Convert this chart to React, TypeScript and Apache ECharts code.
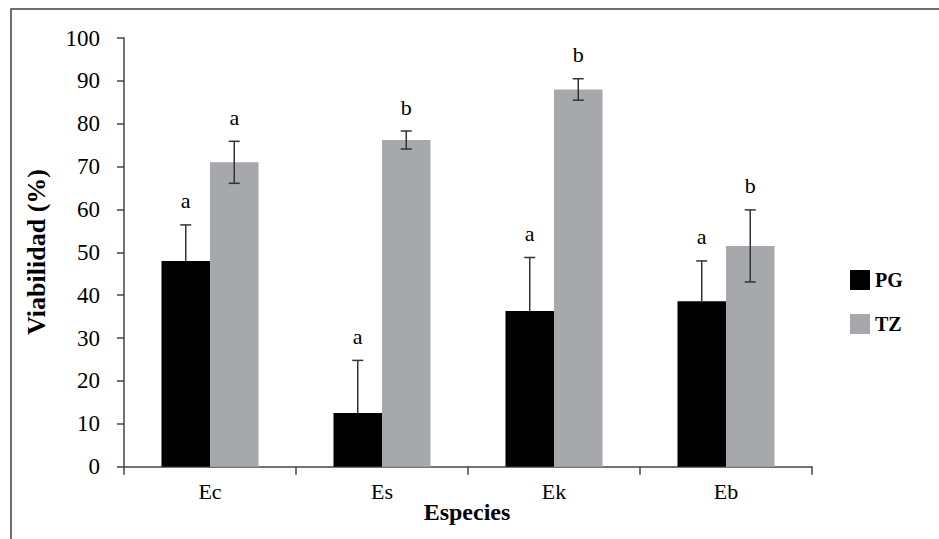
import React, { useEffect, useRef } from "react";
import * as echarts from "echarts";

const categories = ["Ec", "Es", "Ek", "Eb"];
const pgValues = [48, 12.5, 36.3, 38.6];
const pgErrors = [8.4, 12.3, 12.5, 9.4];
const pgLetters = ["a", "a", "a", "a"];
const tzValues = [71, 76.2, 88, 51.5];
const tzErrors = [4.9, 2.1, 2.5, 8.4];
const tzLetters = ["a", "b", "b", "b"];

const FONT = "Times New Roman, Liberation Serif, Tinos, DejaVu Serif, serif";
const BAR_FRAC = 0.282;

function makeErrorSeries(name: string, values: number[], errors: number[], letters: string[], side: number, showLower: boolean) {
  return {
    type: "custom",
    name: name + "_err",
    silent: true,
    z: 10,
    data: values.map((v, i) => [i, v, errors[i]]),
    renderItem: (params: any, api: any) => {
      const idx = api.value(0);
      const val = api.value(1);
      const err = api.value(2);
      const letter = letters[params.dataIndex];
      const band = api.size([1, 0])[0];
      const off = side * band * BAR_FRAC / 2;
      const top = api.coord([idx, val + err]);
      const mid = api.coord([idx, val]);
      const bot = api.coord([idx, val - err]);
      const x = top[0] + off;
      const cap = 5.5;
      const lineStyle = { stroke: "#333333", lineWidth: 1.5 };
      const children: any[] = [
        { type: "line", shape: { x1: x, y1: top[1], x2: x, y2: showLower ? bot[1] : mid[1] }, style: lineStyle },
        { type: "line", shape: { x1: x - cap, y1: top[1], x2: x + cap, y2: top[1] }, style: lineStyle },
      ];
      if (showLower) {
        children.push({ type: "line", shape: { x1: x - cap, y1: bot[1], x2: x + cap, y2: bot[1] }, style: lineStyle });
      }
      children.push({
        type: "text",
        x: x,
        y: top[1] - 24,
        style: {
          text: letter,
          fill: "#000",
          fontFamily: FONT,
          fontSize: 22,
          align: "center",
          verticalAlign: "middle",
        },
      });
      return { type: "group", children };
    },
  };
}

export default function App() {
  const ref = useRef<HTMLDivElement>(null);
  useEffect(() => {
    if (!ref.current) return;
    const chart = echarts.init(ref.current, undefined, { renderer: "svg" });
    chart.setOption({
      animation: false,
      backgroundColor: "#ffffff",
      textStyle: { fontFamily: FONT },
      grid: { left: 124, right: 127, top: 38, bottom: 72.3 },
      legend: {
        orient: "vertical",
        left: 845,
        top: 265,
        itemWidth: 20,
        itemHeight: 20,
        itemGap: 24,
        icon: "rect",
        data: ["PG", "TZ"],
        textStyle: { fontFamily: FONT, fontSize: 20, fontWeight: "bold", color: "#000" },
      },
      xAxis: {
        type: "category",
        data: categories,
        axisLine: { show: true, lineStyle: { color: "#444", width: 1.5 } },
        axisTick: { show: true, length: 8, lineStyle: { color: "#444", width: 1.5 } },
        axisLabel: { color: "#000", fontFamily: FONT, fontSize: 22, margin: 14 },
        splitLine: { show: false },
      },
      yAxis: {
        type: "value",
        min: 0,
        max: 100,
        interval: 10,
        axisLine: { show: true, lineStyle: { color: "#444", width: 1.5 } },
        axisTick: { show: true, length: 7, lineStyle: { color: "#444", width: 1.5 } },
        axisLabel: { color: "#000", fontFamily: FONT, fontSize: 23, margin: 24 },
        splitLine: { show: false },
      },
      graphic: [
        {
          type: "rect",
          shape: { x: 11, y: 9, width: 2000, height: 2000 },
          style: { fill: "none", stroke: "#404040", lineWidth: 1.5 },
          silent: true,
          z: -10,
        },
        {
          type: "text",
          x: 36,
          y: 252,
          rotation: Math.PI / 2,
          style: {
            text: "Viabilidad (%)",
            fontFamily: FONT,
            fontSize: 26,
            fontWeight: "bold",
            fill: "#000",
            align: "center",
            verticalAlign: "middle",
          },
        },
        {
          type: "text",
          x: 467,
          y: 512,
          style: {
            text: "Especies",
            fontFamily: FONT,
            fontSize: 24,
            fontWeight: "bold",
            fill: "#000",
            align: "center",
            verticalAlign: "middle",
          },
        },
      ],
      series: [
        {
          type: "bar",
          name: "PG",
          data: pgValues,
          barWidth: BAR_FRAC * 100 + "%",
          barGap: "0%",
          itemStyle: { color: "#000000" },
        },
        {
          type: "bar",
          name: "TZ",
          data: tzValues,
          barWidth: BAR_FRAC * 100 + "%",
          barGap: "0%",
          itemStyle: { color: "#a7a8ab" },
        },
        makeErrorSeries("PG", pgValues, pgErrors, pgLetters, -1, false),
        makeErrorSeries("TZ", tzValues, tzErrors, tzLetters, 1, true),
      ],
    });
    return () => chart.dispose();
  }, []);
  return (
    <div
      ref={ref}
      style={{ position: "absolute", left: 0, top: 0, width: 939, height: 539 }}
    />
  );
}
